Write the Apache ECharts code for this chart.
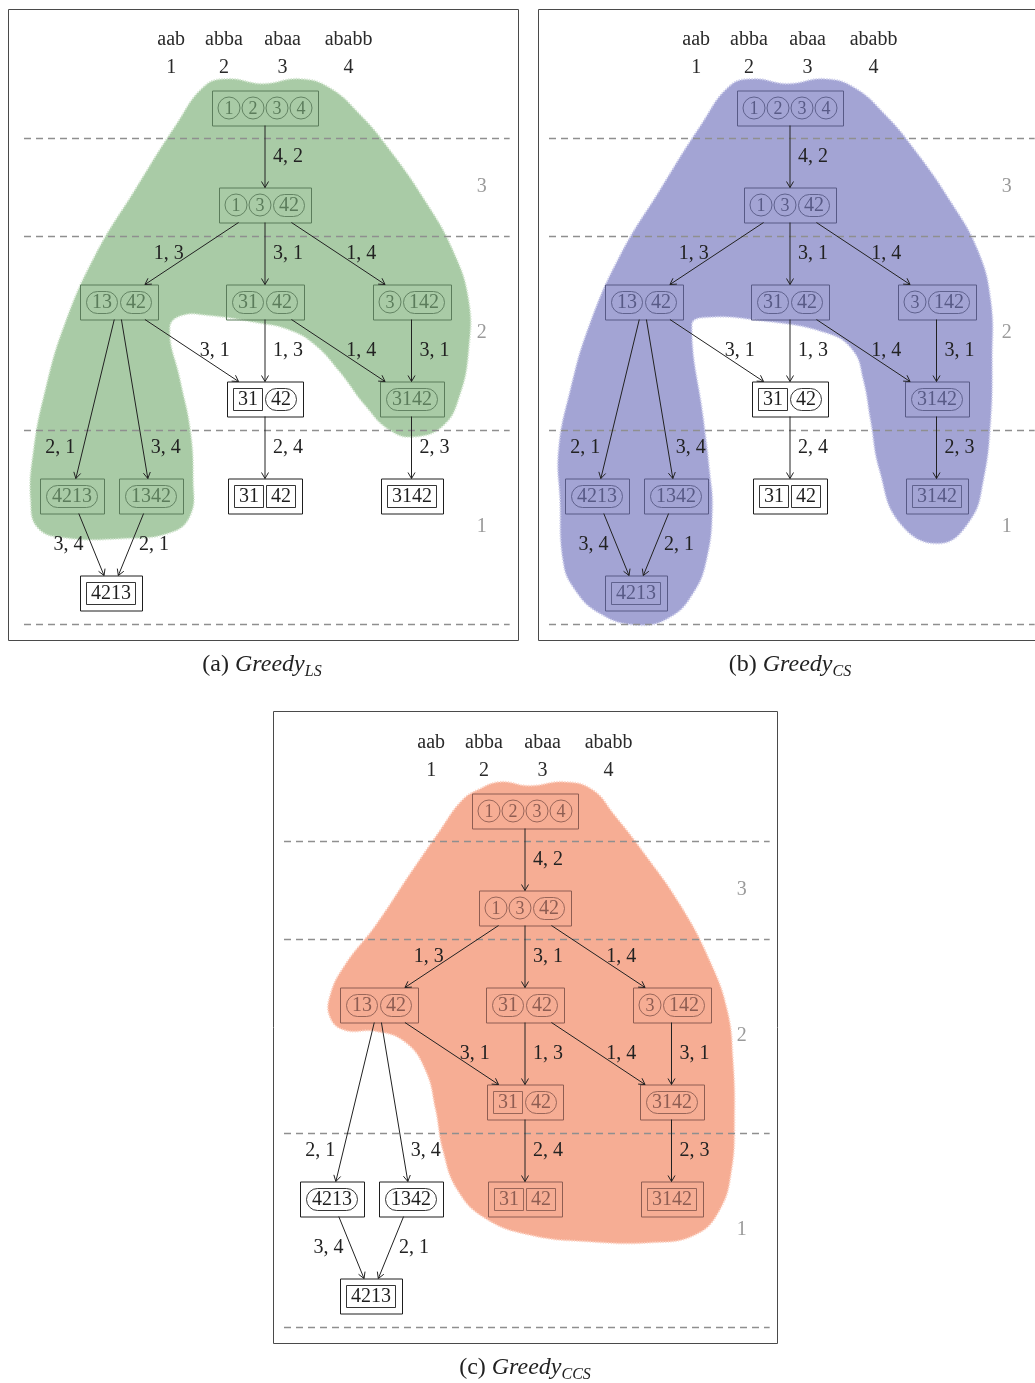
<!DOCTYPE html>
<html>
<head>
<meta charset="utf-8">
<script src="https://cdn.jsdelivr.net/npm/echarts@6/dist/echarts.min.js"></script>
<style>
  html, body { margin: 0; padding: 0; background: #fff; }
  #chart-container { width: 1035px; height: 1383px; }
</style>
</head>
<body>
<div id="chart-container"></div>
<script>
var dom = document.getElementById('chart-container');
var myChart = echarts.init(dom, null, { renderer: 'canvas' });

var SERIF = '"Liberation Serif", "DejaVu Serif", serif';

// header words and their numbers (column position in node units)
var headerWords = ['aab', 'abba', 'abaa', 'ababb'];
var headerNums = ['1', '2', '3', '4'];
var headerCols = [-0.64, -0.28, 0.12, 0.57];

// level names on the right, and the dashed separators (in rows)
var levelNames = ['3', '2', '1'];
var levelRows = [0.81, 2.32, 4.32];
var separatorRows = [0.31, 1.32, 3.32, 5.32];

// nodes, same graph in all three panels
// part kinds: c = circled, p = rounded pill, b = square box
var nodeCol = [0, 0, -1, 0, 1, 0, 1, -1.32, -0.78, 0, 1, -1.05];
var nodeRow = [0, 1, 2, 2, 2, 3, 3, 4, 4, 4, 4, 5];
var nodeParts = [
  [['1', 'c'], ['2', 'c'], ['3', 'c'], ['4', 'c']],
  [['1', 'c'], ['3', 'c'], ['42', 'p']],
  [['13', 'p'], ['42', 'p']],
  [['31', 'p'], ['42', 'p']],
  [['3', 'c'], ['142', 'p']],
  [['31', 'b'], ['42', 'p']],
  [['3142', 'p']],
  [['4213', 'p']],
  [['1342', 'p']],
  [['31', 'b'], ['42', 'b']],
  [['3142', 'b']],
  [['4213', 'b']]
];

// edges
var edgeFrom = [0, 1, 1, 1, 2, 3, 3, 4, 5, 6, 2, 2, 7, 8];
var edgeTo = [1, 2, 3, 4, 5, 5, 6, 6, 9, 10, 7, 8, 11, 11];
var edgeLabel = ['4, 2', '1, 3', '3, 1', '1, 4', '3, 1', '1, 3', '1, 4', '3, 1', '2, 4', '2, 3', '2, 1', '3, 4', '3, 4', '2, 1'];
var edgeSide = [1, -1, 1, 1, 1, 1, 1, 1, 1, 1, -1, 1, -1, 1];

// panels
var panelNames = ['(a) ', '(b) ', '(c) '];
var panelSubs = ['LS', 'CS', 'CCS'];
var panelFill = ['#a9cba6', '#a3a4d4', '#f6ad94'];
var panelRim = ['#d3e6d0', '#cfd0ec', '#fcd3c4'];
var panelInk = ['#5b7c5b', '#585a86', '#8e5d52'];
var memberA = [1, 1, 1, 1, 1, 0, 1, 1, 1, 0, 0, 0];
var memberB = [1, 1, 1, 1, 1, 0, 1, 1, 1, 0, 1, 1];
var memberC = [1, 1, 1, 1, 1, 1, 1, 0, 0, 1, 1, 0];

// blob outlines (column, row)
var blobA = [[-0.41, -0.23], [-0.25, -0.30], [-0.02, -0.25], [0.24, -0.30], [0.44, -0.21], [0.65, 0.07], [0.85, 0.43], [1.09, 0.95], [1.28, 1.46], [1.39, 1.98], [1.39, 2.50], [1.33, 2.96], [1.22, 3.27], [1.02, 3.39], [0.85, 3.32], [0.68, 3.06], [0.51, 2.72], [0.34, 2.44], [0.17, 2.29], [-0.07, 2.21], [-0.38, 2.14], [-0.57, 2.14], [-0.65, 2.27], [-0.58, 2.80], [-0.51, 3.32], [-0.49, 3.84], [-0.51, 4.20], [-0.65, 4.38], [-0.99, 4.44], [-1.37, 4.43], [-1.55, 4.33], [-1.60, 4.04], [-1.58, 3.53], [-1.50, 2.91], [-1.37, 2.24], [-1.16, 1.52], [-0.89, 0.85], [-0.61, 0.18]];
var blobB = [[-0.41, -0.23], [-0.25, -0.30], [-0.02, -0.25], [0.24, -0.30], [0.44, -0.21], [0.65, 0.07], [0.85, 0.43], [1.09, 0.95], [1.28, 1.46], [1.37, 1.98], [1.38, 2.60], [1.37, 3.22], [1.32, 3.84], [1.23, 4.25], [1.02, 4.49], [0.75, 4.28], [0.61, 3.73], [0.55, 3.22], [0.50, 2.80], [0.43, 2.50], [0.25, 2.32], [-0.21, 2.19], [-0.59, 2.16], [-0.67, 2.24], [-0.59, 3.22], [-0.55, 3.73], [-0.53, 4.14], [-0.57, 4.66], [-0.66, 5.00], [-0.82, 5.25], [-1.04, 5.33], [-1.30, 5.21], [-1.48, 4.94], [-1.55, 4.66], [-1.57, 4.04], [-1.58, 3.53], [-1.50, 2.91], [-1.37, 2.24], [-1.16, 1.52], [-0.89, 0.85], [-0.61, 0.18]];
var blobC = [[-0.32, -0.22], [-0.17, -0.30], [0.03, -0.26], [0.27, -0.30], [0.46, -0.22], [0.61, 0.04], [0.82, 0.45], [1.06, 0.97], [1.26, 1.54], [1.38, 2.05], [1.42, 2.57], [1.43, 3.19], [1.41, 3.70], [1.33, 4.11], [1.16, 4.37], [0.85, 4.45], [0.44, 4.44], [0.03, 4.37], [-0.27, 4.20], [-0.46, 3.91], [-0.56, 3.50], [-0.61, 3.08], [-0.68, 2.67], [-0.82, 2.38], [-1.02, 2.27], [-1.23, 2.26], [-1.33, 2.13], [-1.33, 1.90], [-1.23, 1.59], [-1.02, 1.18], [-0.79, 0.66], [-0.58, 0.20], [-0.43, -0.11]];

var members = [memberA, memberB, memberC];
var blobs = [blobA, blobB, blobC];

// layout of the three frames (pixels) and the px size of one column / row
var frames = [
  { left: 8, top: 9, width: 510, height: 631, cx: 265, cy: 108 },
  { left: 538, top: 9, width: 497, height: 631, cx: 790, cy: 108 },
  { left: 273, top: 711, width: 504, height: 632, cx: 525, cy: 811 }
];
var frameWidths = [510, 510, 504];
var captionPos = [[262, 665], [790, 665], [525, 1368]];
var COL = 146.5, ROW = 97;
var SEP_FROM = -1.645, SEP_TO = 1.67, LEVEL_COL = 1.48;
var HALF_H = 17.5, PAD = 6, GAP = 2;

function partWidth(p) {
  if (p[1] === 'c') return 22;
  if (p[1] === 'p') return p[0].length * 10 + 12;
  return p[0].length * 10 + 10;
}

function nodeRenderer(panel) {
  return function (params, api) {
    var k = api.value(2);
    var c = api.coord([api.value(0), api.value(1)]);
    var parts = nodeParts[k];
    var widths = parts.map(partWidth);
    var inner = widths.reduce(function (a, b) { return a + b; }, 0) + GAP * (parts.length - 1);
    var W = Math.round(inner + 2 * PAD);
    var color = members[panel][k] ? panelInk[panel] : '#1e1e1e';
    var cx = Math.round(c[0]), cy = Math.round(c[1]);
    var children = [{
      type: 'rect',
      shape: { x: cx - Math.round(W / 2) + 0.5, y: cy - HALF_H + 0.5, width: W, height: HALF_H * 2 },
      style: { fill: 'none', stroke: color, lineWidth: 1 }
    }];
    var x = cx - inner / 2;
    parts.forEach(function (p, j) {
      var w = widths[j];
      var mid = x + w / 2;
      if (p[1] === 'c') {
        children.push({ type: 'circle', shape: { cx: mid, cy: cy, r: 11 }, style: { fill: 'none', stroke: color, lineWidth: 0.9 } });
      } else {
        children.push({
          type: 'rect',
          shape: { x: x + 0.5, y: cy - 11 + 0.5, width: w - 1, height: 22, r: p[1] === 'p' ? 11 : 0 },
          style: { fill: 'none', stroke: color, lineWidth: 0.9 }
        });
      }
      children.push({
        type: 'text',
        style: { x: mid, y: cy + 1, text: p[0], fill: color, font: (p[1] === 'c' ? '18px ' : '20px ') + SERIF, align: 'center', verticalAlign: 'middle' }
      });
      x += w + GAP;
    });
    return { type: 'group', children: children };
  };
}

function renderEdge(params, api) {
  var k = api.value(2);
  var s = edgeFrom[k], t = edgeTo[k];
  var p1 = api.coord([nodeCol[s], nodeRow[s]]);
  var p2 = api.coord([nodeCol[t], nodeRow[t]]);
  var dx = p2[0] - p1[0], dy = p2[1] - p1[1];
  var a = HALF_H / dy, b = 1 - HALF_H / dy;
  var x1 = p1[0] + dx * a, y1 = p1[1] + dy * a;
  var x2 = p1[0] + dx * b, y2 = p1[1] + dy * b;
  var len = Math.sqrt(dx * dx + dy * dy), ux = dx / len, uy = dy / len;
  var ah = 6, aw = 3.5;
  var arrow = [
    [x2 - ux * ah - uy * aw, y2 - uy * ah + ux * aw],
    [x2, y2],
    [x2 - ux * ah + uy * aw, y2 - uy * ah - ux * aw]
  ];
  var ly = api.coord([0, nodeRow[t] - 0.5])[1];
  var lx = p1[0] + dx * (ly - p1[1]) / dy + edgeSide[k] * 23;
  return {
    type: 'group',
    children: [
      { type: 'line', shape: { x1: x1, y1: y1, x2: x2, y2: y2 }, style: { stroke: '#222', lineWidth: 1 } },
      { type: 'polyline', shape: { points: arrow }, style: { stroke: '#222', fill: 'none', lineWidth: 1 } },
      { type: 'text', style: { x: lx, y: ly, text: edgeLabel[k], fill: '#222', font: '20px ' + SERIF, align: 'center', verticalAlign: 'middle' } }
    ]
  };
}

var grids = [], xAxes = [], yAxes = [], series = [];
frames.forEach(function (f, i) {
  grids.push({ left: f.left, top: f.top, width: f.width, height: f.height, show: false });
  xAxes.push({ gridIndex: i, type: 'value', show: false, min: (f.left - f.cx) / COL, max: (f.left + f.width - f.cx) / COL });
  yAxes.push({ gridIndex: i, type: 'value', show: false, inverse: true, min: (f.top - f.cy) / ROW, max: (f.top + f.height - f.cy) / ROW });

  // blob
  series.push({
    type: 'custom', xAxisIndex: i, yAxisIndex: i, z: 1, silent: true,
    data: [[0, 0, 0]],
    renderItem: function (params, api) {
      var pts = blobs[i].map(function (p) { return api.coord(p); });
      return {
        type: 'polygon',
        shape: { points: pts, smooth: 0.45 },
        style: { fill: panelFill[i], stroke: panelRim[i], lineWidth: 2, lineDash: [1.2, 1.4] }
      };
    }
  });

  // dashed separators
  series.push({
    type: 'custom', xAxisIndex: i, yAxisIndex: i, z: 2, silent: true,
    data: separatorRows.map(function (r) { return [0, r]; }),
    renderItem: function (params, api) {
      var a = api.coord([SEP_FROM, api.value(1)]);
      var b = api.coord([SEP_TO, api.value(1)]);
      return { type: 'line', shape: { x1: a[0], y1: Math.round(a[1]) + 0.5, x2: b[0], y2: Math.round(b[1]) + 0.5 }, style: { stroke: '#8f8f8f', lineWidth: 1.4, lineDash: [7, 5] } };
    }
  });

  // level names
  series.push({
    type: 'custom', xAxisIndex: i, yAxisIndex: i, z: 2, silent: true,
    data: levelRows.map(function (r, k) { return [LEVEL_COL, r, k]; }),
    renderItem: function (params, api) {
      var p = api.coord([api.value(0), api.value(1)]);
      return { type: 'text', style: { x: p[0], y: p[1], text: levelNames[api.value(2)], fill: '#9a9a9a', font: '20px ' + SERIF, align: 'center', verticalAlign: 'middle' } };
    }
  });

  // header words / numbers
  series.push({
    type: 'custom', xAxisIndex: i, yAxisIndex: i, z: 2, silent: true,
    data: headerCols.map(function (c, k) { return [c, -0.70, k]; }),
    renderItem: function (params, api) {
      var k = api.value(2);
      var p = api.coord([api.value(0), api.value(1)]);
      var q = api.coord([api.value(0), -0.41]);
      return {
        type: 'group',
        children: [
          { type: 'text', style: { x: p[0], y: p[1], text: headerWords[k], fill: '#2a2a2a', font: '20px ' + SERIF, align: 'center', verticalAlign: 'middle' } },
          { type: 'text', style: { x: q[0], y: q[1], text: headerNums[k], fill: '#2a2a2a', font: '20px ' + SERIF, align: 'center', verticalAlign: 'middle' } }
        ]
      };
    }
  });

  // nodes
  series.push({
    type: 'custom', xAxisIndex: i, yAxisIndex: i, z: 3, silent: true,
    data: nodeCol.map(function (c, k) { return [c, nodeRow[k], k]; }),
    renderItem: nodeRenderer(i)
  });

  // edges
  series.push({
    type: 'custom', xAxisIndex: i, yAxisIndex: i, z: 4, silent: true,
    data: edgeFrom.map(function (s, k) { return [nodeCol[s], nodeRow[s], k]; }),
    renderItem: renderEdge
  });
});

var graphics = frames.map(function (f, i) {
  return {
    type: 'rect', z: 0,
    shape: { x: f.left + 0.5, y: f.top + 0.5, width: frameWidths[i], height: f.height },
    style: { fill: 'none', stroke: '#4a4a4a', lineWidth: 1 }
  };
});
panelNames.forEach(function (n, i) {
  graphics.push({
    type: 'text', x: captionPos[i][0], y: captionPos[i][1],
    style: {
      text: '{n|' + n + '}{i|Greedy}{s|' + panelSubs[i] + '}',
      align: 'center', verticalAlign: 'middle', fill: '#222',
      rich: {
        n: { fontSize: 24, fontFamily: SERIF, lineHeight: 30, verticalAlign: 'middle' },
        i: { fontSize: 24, fontFamily: SERIF, fontStyle: 'italic', lineHeight: 30, verticalAlign: 'middle' },
        s: { fontSize: 16, fontFamily: SERIF, fontStyle: 'italic', lineHeight: 30, verticalAlign: 'bottom' }
      }
    }
  });
});

var option = {
  backgroundColor: '#fff',
  animation: false,
  grid: grids,
  xAxis: xAxes,
  yAxis: yAxes,
  series: series,
  graphic: graphics
};

myChart.setOption(option);
window.addEventListener('resize', myChart.resize);
</script>
</body>
</html>
